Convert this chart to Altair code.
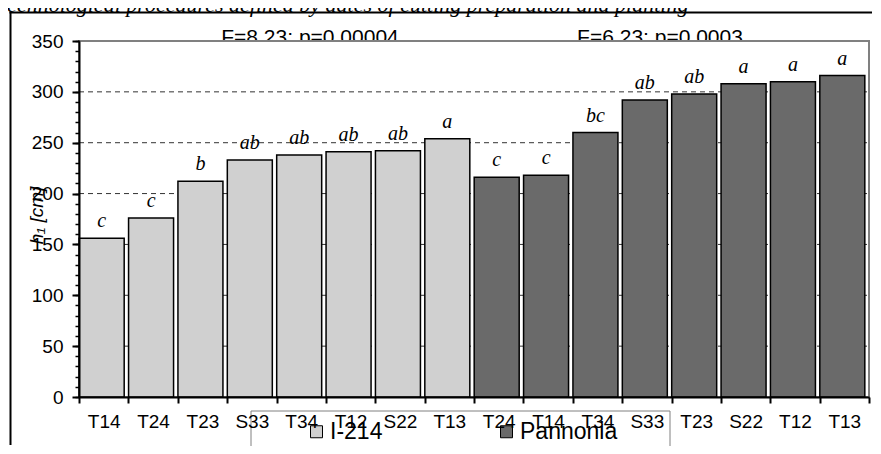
import altair as alt
import pandas as pd

# ---- data ----
cultivars = ["I-214"] * 8 + ["Pannonia"] * 8
clones = ["T14", "T24", "T23", "S33", "T34", "T12", "S22", "T13",
          "T24", "T14", "T34", "S33", "T23", "S22", "T12", "T13"]
heights = [156, 176, 212, 233, 238, 241, 242, 254,
           216, 218, 260, 292, 298, 308, 310, 316]
letters = ["c", "c", "b", "ab", "ab", "ab", "ab", "a",
           "c", "c", "bc", "ab", "ab", "a", "a", "a"]
major_ticks = [0, 50, 100, 150, 200, 250, 300, 350]
minor_ticks = list(range(0, 351, 10))
grid_values = [50, 100, 150, 200, 250, 300]
annotations = ["F=8.23; p=0.00004", "F=6.23; p=0.0003"]
annotation_x = [231, 581]
title_text = "technological procedures defined by dates of cutting preparation and planting"
y_title = "h\u2081 [cm]"

keys = [f"{i:02d}|{c}" for i, c in enumerate(clones)]
df = pd.DataFrame(dict(key=keys, clone=clones, cultivar=cultivars,
                       h=heights, letter=letters))
grid_df = pd.DataFrame({"v": grid_values})
ann_df = pd.DataFrame({"t": annotations, "px": annotation_x})
one = pd.DataFrame({"a": [0]})

W, H = 790, 356
SANS = "Liberation Sans"
SERIF = "Liberation Serif"

yscale = alt.Scale(domain=[0, 350], nice=False)
xscale = alt.Scale(paddingInner=0, paddingOuter=0)

x_enc = alt.X("key:N", sort=keys, scale=xscale,
              axis=alt.Axis(title=None, labelExpr="split(datum.label,'|')[1]",
                            labelAngle=0, tickBand="extent", labelFont=SANS,
                            labelFontSize=19, labelColor="black", labelPadding=9,
                            tickSize=6, tickWidth=2, tickColor="black",
                            domainColor="black", domainWidth=2, grid=False,
                            zindex=1))

y_major = alt.Axis(values=major_ticks, orient="left", title=y_title,
                   titleX=-43, titleY=174, titleAngle=270, titleAlign="center",
                   titleBaseline="middle", titleFont=SANS, titleFontSize=19,
                   titleFontStyle="italic", titleFontWeight="normal",
                   titleColor="black", labelFont=SANS, labelFontSize=19,
                   labelColor="black", labelPadding=9, tickSize=7, tickWidth=2,
                   tickColor="black", domainColor="black", domainWidth=2,
                   grid=False, zindex=1)
y_minor = alt.Axis(values=minor_ticks, orient="left", title=None, labels=False,
                   domain=False, grid=False, tickSize=4, tickWidth=1.5,
                   tickColor="black", zindex=1)

# outer frame (top and left edges only), drawn as thin filled strips
frame_top = alt.Chart(one).mark_rect(fill="black", strokeWidth=0).encode(
    x=alt.value(-69.5), x2=alt.value(W + 3), y=alt.value(-29.5), y2=alt.value(-27.5))
frame_left = alt.Chart(one).mark_rect(fill="black", strokeWidth=0).encode(
    x=alt.value(-69.5), x2=alt.value(-67.5), y=alt.value(-29.5), y2=alt.value(H + 48))

title = alt.Chart(one).mark_text(text=title_text, font=SERIF, fontStyle="italic",
                                 fontSize=22, align="left", baseline="alphabetic",
                                 color="black").encode(
    x=alt.value(-78), y=alt.value(-29))

ann = alt.Chart(ann_df).mark_text(font=SANS, fontSize=21, align="center",
                                  baseline="alphabetic", color="black").encode(
    x=alt.X("px:Q", scale=None), y=alt.value(2.5), text="t:N")

plot_bg = alt.Chart(one).mark_rect(fill="white", stroke="#808080",
                                   strokeWidth=2).encode(
    x=alt.value(0), x2=alt.value(W), y=alt.value(0), y2=alt.value(H))

grid = alt.Chart(grid_df).mark_rule(color="#333333", strokeWidth=1,
                                    strokeDash=[5, 4]).encode(
    y=alt.Y("v:Q", scale=yscale, axis=y_minor), x=alt.value(0), x2=alt.value(W))

bars = alt.Chart(df).mark_bar(width=45, xOffset=-2, stroke="black",
                              strokeWidth=1.5).encode(
    x=x_enc,
    y=alt.Y("h:Q", scale=yscale, axis=y_major),
    color=alt.Color("cultivar:N",
                    scale=alt.Scale(domain=["I-214", "Pannonia"],
                                    range=["#d0d0d0", "#6a6a6a"]),
                    legend=alt.Legend(orient="none", legendX=226, legendY=379,
                                      direction="horizontal", title=None,
                                      symbolType="square", symbolSize=144,
                                      symbolStrokeColor="black",
                                      symbolStrokeWidth=1, labelFont=SANS,
                                      labelFontSize=23, labelColor="black",
                                      columnPadding=112, labelOffset=2,
                                      padding=0)),
)

text = alt.Chart(df).mark_text(font=SERIF, fontStyle="italic", fontSize=20,
                               baseline="alphabetic", align="center", dy=-11,
                               xOffset=-2, color="black").encode(
    x=alt.X("key:N", sort=keys, scale=xscale),
    y=alt.Y("h:Q", scale=yscale, axis=None),
    text="letter:N")

legend_box = alt.Chart(one).mark_rect(fill="transparent", stroke="#808080",
                                      strokeWidth=1).encode(
    x=alt.value(172), x2=alt.value(591), y=alt.value(370), y2=alt.value(409))

chart = alt.layer(frame_top, frame_left, title, ann, plot_bg, grid, bars, text,
                  legend_box).resolve_axis(y="independent").properties(
    width=W, height=H, autosize=alt.AutoSizeParams(type="none"),
    padding={"left": 71, "top": 33, "right": 4, "bottom": 49},
    background="white").configure_view(stroke=None)

chart.save("out.html", embed_options={"renderer": "svg", "actions": False})
